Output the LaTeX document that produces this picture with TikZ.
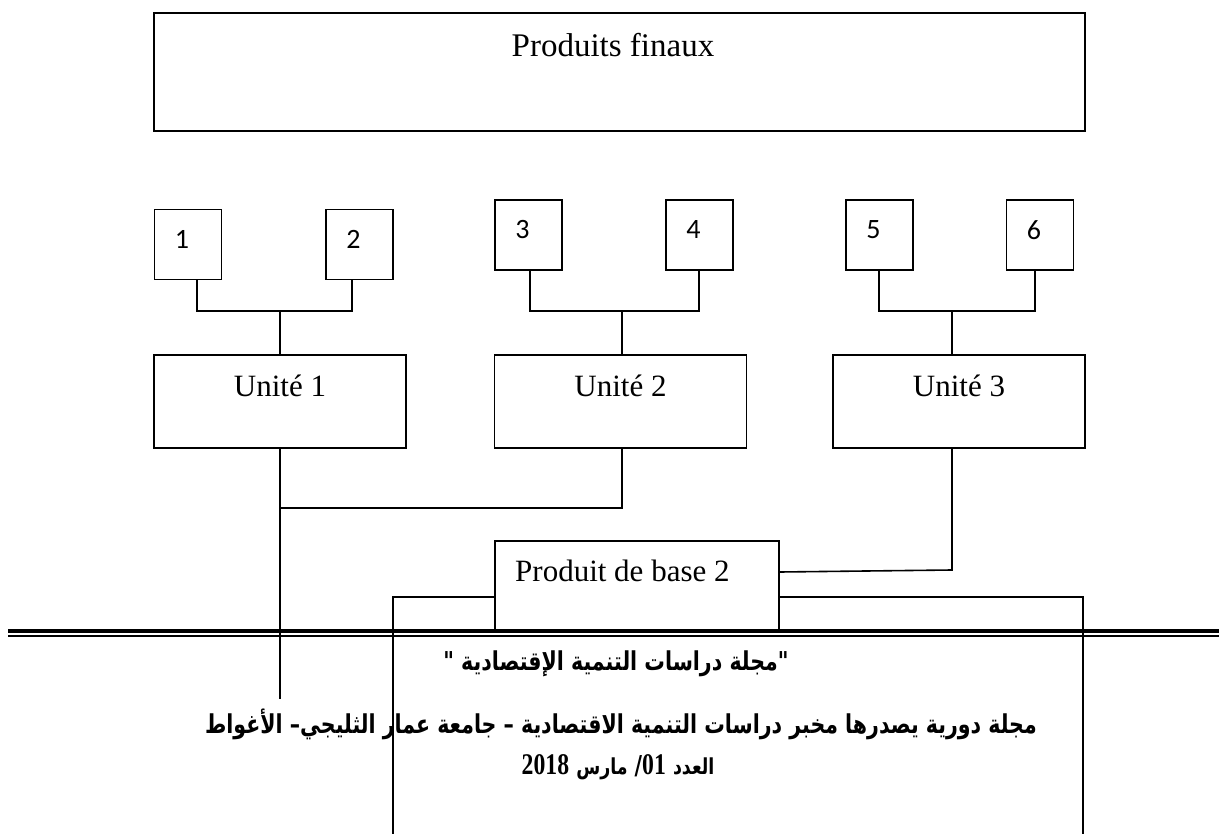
\documentclass[tikz,border=0pt]{standalone}
\usepackage{fontspec}
\setmainfont{Liberation Serif}
\newfontfamily\arabicfont[Script=Arabic]{DejaVu Sans}
\newfontfamily\numfont{Carlito}
\newfontfamily\serifnum{Liberation Serif}
\TeXXeTstate=1
\usetikzlibrary{calc}

\tikzset{
  box/.style={draw, line width=1.9pt, rectangle, inner sep=0pt},
  smallbox/.style={box, minimum width=67pt, minimum height=70pt},
  unitbox/.style={box, minimum width=252pt, minimum height=93pt},
  conn/.style={draw, line width=1.6pt, line cap=rect},
  latin/.style={inner sep=0pt, font=\fontsize{31}{36}\selectfont},
  numtext/.style={inner sep=0pt, font=\numfont\fontsize{28}{32}\selectfont},
  ar/.style={inner sep=0pt, font=\arabicfont\bfseries\fontsize{26}{30}\selectfont},
}
% bold Latin figures inside the Arabic footer
\newcommand{\arnum}[1]{{\serifnum\bfseries\fontsize{30}{34}\selectfont\beginL #1\endL}}

\begin{document}
\begin{tikzpicture}[x=1pt,y=-1pt]
\useasboundingbox (0,0) rectangle (1219,834);

% final products
\node[box, minimum width=931pt, minimum height=118pt] (top) at (619.5,72) {};
\node[latin, anchor=base, font=\fontsize{33}{38}\selectfont] (toptxt) at (613,57) {Produits finaux};

% six elementary boxes
\node[smallbox] (b1) at (188,244.5) {};
\node[smallbox] (b2) at (359.5,244.5) {};
\node[smallbox] (b3) at (528.5,235) {};
\node[smallbox] (b4) at (699.5,235) {};
\node[smallbox] (b5) at (879.5,235) {};
\node[smallbox] (b6) at (1040,235) {};
\foreach \b/\t in {b1/1,b2/2,b3/3,b4/4,b5/5,b6/6}
  \node[numtext] (\b t) at ($(\b.center)+(-6,-5)$) {\t};

% units
\node[unitbox] (u1) at (280,401.5) {};
\node[unitbox] (u2) at (620.5,401.5) {};
\node[unitbox] (u3) at (959,401.5) {};
\node[latin, anchor=base] (u1t) at (280,397) {Unité 1};
\node[latin, anchor=base] (u2t) at (620.5,397) {Unité 2};
\node[latin, anchor=base] (u3t) at (959,397) {Unité 3};

% basic product
\node[box, minimum width=284pt, minimum height=91pt] (pb) at (637,586.5) {};
\node[latin, anchor=base west] (pbt) at (515,581) {Produit de base 2};

% junction points
\coordinate (bar) at (0,311);
\coordinate (m1) at (280,508);
\coordinate (k3) at (952,570);
\coordinate (end1) at (280,698);
\coordinate (lb) at (393,834);
\coordinate (rb) at (1083,834);

% brackets joining the boxes to their unit
\draw[conn] ([xshift=9pt]b1.south) |- ([xshift=-7.5pt]b2.south |- bar) -- ([xshift=-7.5pt]b2.south);
\draw[conn] ([xshift=1.5pt]b3.south) |- ([xshift=-0.5pt]b4.south |- bar) -- ([xshift=-0.5pt]b4.south);
\draw[conn] ([xshift=-0.5pt]b5.south) |- ([xshift=-5pt]b6.south |- bar) -- ([xshift=-5pt]b6.south);
\draw[conn] (u1.north) -- (u1.north |- bar);
\draw[conn] ([xshift=1.5pt]u2.north) -- ([xshift=1.5pt]u2.north |- bar);
\draw[conn] ([xshift=-7pt]u3.north) -- ([xshift=-7pt]u3.north |- bar);

% links below the units
\draw[conn] (u1.south) -- (end1);
\draw[conn] ([xshift=1.5pt]u2.south) |- (m1);
\draw[conn] ([xshift=-7pt]u3.south) -- (k3) -- ([yshift=14.5pt]pb.east);
\draw[conn] ([yshift=-10.5pt]pb.west) -| (lb);
\draw[conn] ([yshift=-10.5pt]pb.east) -| (rb);

% double rule of the page footer
\draw[line width=3.7pt] (8,631) -- (1219,631);
\draw[line width=2pt] (8,635.7) -- (1219,635.7);

% footer text
\node[ar] (f1) at (616,664) {\scalebox{0.79}[1]{\beginR"مجلة دراسات التنمية الإقتصادية "\endR}};
\node[ar] (f2) at (621,724) {\scalebox{0.79}[1]{\beginR مجلة دورية يصدرها مخبر دراسات التنمية الاقتصادية –  جامعة عمار الثليجي– الأغواط\endR}};
\node[ar] (f3) at (618,767) {\scalebox{0.79}[1]{\beginR{\fontsize{22}{26}\selectfont العدد} \arnum{01}/ {\fontsize{22}{26}\selectfont مارس} \arnum{2018}\endR}};
\end{tikzpicture}
\end{document}
